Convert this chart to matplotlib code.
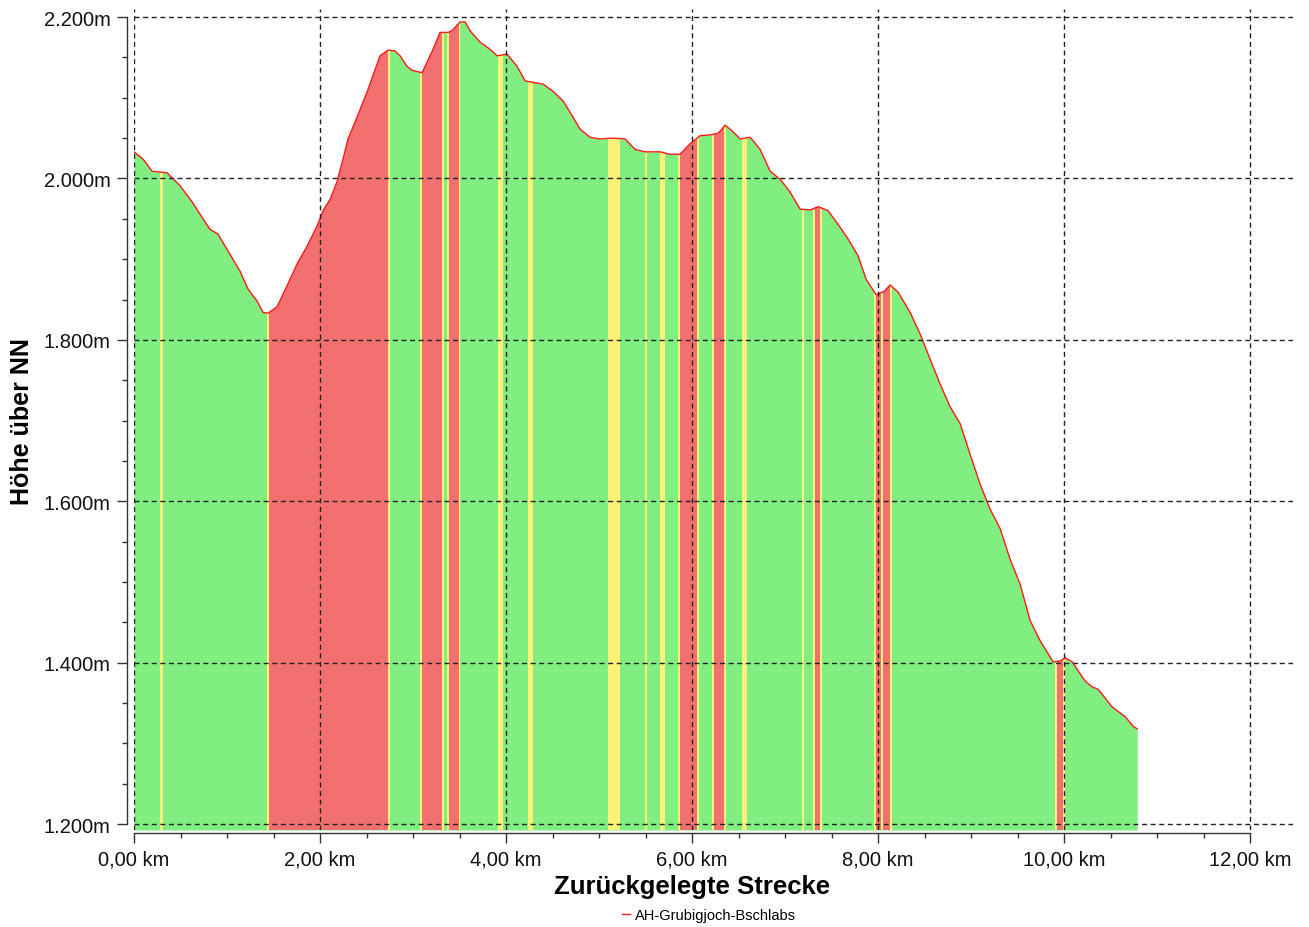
import matplotlib
matplotlib.use('Agg')
import matplotlib.pyplot as plt
from matplotlib.ticker import MultipleLocator, FuncFormatter
import matplotlib.transforms as mtransforms

# ---------------- data ----------------
distance_km = [0.000, 0.097, 0.194, 0.355, 0.495, 0.624, 0.731, 0.817, 0.903, 1.032,
               1.140, 1.226, 1.323, 1.387, 1.441, 1.538, 1.645, 1.753, 1.860, 1.968,
               2.032, 2.108, 2.183, 2.247, 2.301, 2.398, 2.505, 2.645, 2.731, 2.806,
               2.860, 2.935, 2.989, 3.097, 3.215, 3.290, 3.376, 3.419, 3.505, 3.559,
               3.613, 3.720, 3.828, 3.903, 4.011, 4.118, 4.204, 4.290, 4.398, 4.505,
               4.613, 4.720, 4.796, 4.903, 5.011, 5.140, 5.280, 5.387, 5.495, 5.656,
               5.763, 5.871, 5.978, 6.086, 6.194, 6.280, 6.355, 6.430, 6.516, 6.624,
               6.731, 6.839, 6.946, 7.054, 7.161, 7.269, 7.355, 7.462, 7.570, 7.677,
               7.785, 7.871, 7.978, 8.065, 8.129, 8.215, 8.344, 8.452, 8.559, 8.667,
               8.774, 8.882, 8.989, 9.097, 9.204, 9.312, 9.419, 9.527, 9.634, 9.742,
               9.882, 9.957, 10.011, 10.086, 10.226, 10.301, 10.366, 10.516, 10.656,
               10.742, 10.785]
elevation_m = [2033, 2024, 2009, 2007, 1991, 1971, 1952, 1937, 1931, 1906,
               1885, 1863, 1848, 1834, 1833, 1841, 1867, 1894, 1916, 1941,
               1960, 1974, 1996, 2024, 2049, 2076, 2107, 2152, 2159, 2158,
               2152, 2139, 2134, 2131, 2160, 2181, 2181, 2183, 2194, 2194,
               2183, 2169, 2160, 2152, 2154, 2139, 2121, 2119, 2117, 2108,
               2096, 2076, 2061, 2051, 2049, 2050, 2049, 2036, 2033, 2033,
               2030, 2030, 2043, 2053, 2054, 2056, 2066, 2059, 2049, 2051,
               2036, 2009, 1999, 1983, 1962, 1961, 1965, 1960, 1943, 1925,
               1904, 1875, 1856, 1860, 1868, 1859, 1834, 1807, 1776, 1745,
               1717, 1696, 1658, 1621, 1590, 1566, 1528, 1497, 1452, 1427,
               1401, 1402, 1406, 1401, 1377, 1370, 1367, 1345, 1333,
               1321, 1318]

# slope classes along the track (km ranges)
steep_bands = [(1.45, 2.73), (3.10, 3.31), (3.39, 3.49), (5.87, 6.05), (6.23, 6.34),
               (7.32, 7.38), (7.98, 8.03), (8.05, 8.13), (9.92, 9.99)]
medium_bands = [(0.28, 0.31), (3.91, 3.97), (4.24, 4.29), (5.10, 5.23), (5.49, 5.52),
                (5.66, 5.71), (6.54, 6.59), (7.18, 7.20)]

series_name = "AH-Grubigjoch-Bschlabs"
x_label = "Zurückgelegte Strecke"
y_label = "Höhe über NN"

# ---------------- style ----------------
plt.rcParams['font.family'] = ['Liberation Sans', 'DejaVu Sans']
GREEN = '#80EE80'
RED = '#F37070'
YELLOW = '#FFF07A'
EDGE = '#333333'

fig = plt.figure(figsize=(13.09, 9.28), dpi=100)
ax = fig.add_axes([134 / 1309, 97 / 928, 1159 / 1309, 821 / 928])
ax.set_xlim(0, 12.46)
ax.set_ylim(1192.6, 2210)

base = ax.get_ylim()[0]
poly = ax.fill_between(distance_km, elevation_m, base, color=GREEN, lw=0, zorder=1)
clip = poly.get_paths()[0]

for s, e in medium_bands:
    r = ax.axvspan(s, e, color=YELLOW, lw=0, zorder=1.2)
    r.set_clip_path(clip, ax.transData)
for s, e in steep_bands:
    r = ax.axvspan(s - 0.02, e + 0.02, color=YELLOW, lw=0, zorder=1.2)
    r.set_clip_path(clip, ax.transData)
for s, e in steep_bands:
    r = ax.axvspan(s, e, color=RED, lw=0, zorder=1.3)
    r.set_clip_path(clip, ax.transData)

ax.plot(distance_km, elevation_m, color='#FF1A1A', lw=1.0, zorder=2, label=series_name)

# grid
ax.set_axisbelow(False)
ax.grid(True, which='major', color='#222222', lw=1.0, linestyle=(0, (3.6, 2.6)))

# ticks
ax.xaxis.set_major_locator(MultipleLocator(2))
ax.xaxis.set_minor_locator(MultipleLocator(0.5))
ax.yaxis.set_major_locator(MultipleLocator(200))
ax.yaxis.set_minor_locator(MultipleLocator(50))
ax.xaxis.set_major_formatter(FuncFormatter(lambda v, p: f"{v:.2f}".replace('.', ',') + " km"))
ax.yaxis.set_major_formatter(FuncFormatter(lambda v, p: f"{int(round(v)):,}".replace(',', '.') + "m"))
ax.tick_params(axis='both', which='major', length=7, width=1, color=EDGE,
               labelsize=14.5, labelcolor='#111111', direction='out')
ax.tick_params(axis='both', which='minor', length=3.5, width=1, color=EDGE, direction='out')
ax.tick_params(axis='y', which='major', pad=5)
ax.tick_params(axis='x', which='major', pad=5)

# spines
for side in ('top', 'right'):
    ax.spines[side].set_visible(False)
ax.spines['left'].set_position(('outward', 5.0))
ax.spines['bottom'].set_position(('outward', 2.2))
ax.spines['left'].set_bounds(1200, 2200)
ax.spines['bottom'].set_bounds(0, 12)
for side in ('left', 'bottom'):
    ax.spines[side].set_color(EDGE)
    ax.spines[side].set_linewidth(1.0)

# axis labels
ax.set_xlabel(x_label, fontsize=18.5, fontweight='bold', color='#000000', va='center')
ax.xaxis.set_label_coords(6.0, -0.068,
                          transform=mtransforms.blended_transform_factory(ax.transData, ax.transAxes))
ax.set_ylabel(y_label, fontsize=18, fontweight='bold', color='#000000', va='center', ha='center')
ax.yaxis.set_label_coords(-0.0966, 1700,
                          transform=mtransforms.blended_transform_factory(ax.transAxes, ax.transData))

fig.legend(loc='center', bbox_to_anchor=(709 / 1309, 12 / 928), frameon=False,
           fontsize=10.5, handlelength=0.6, handletextpad=0.35, borderpad=0, borderaxespad=0)

fig.savefig('out.png', dpi=100)
